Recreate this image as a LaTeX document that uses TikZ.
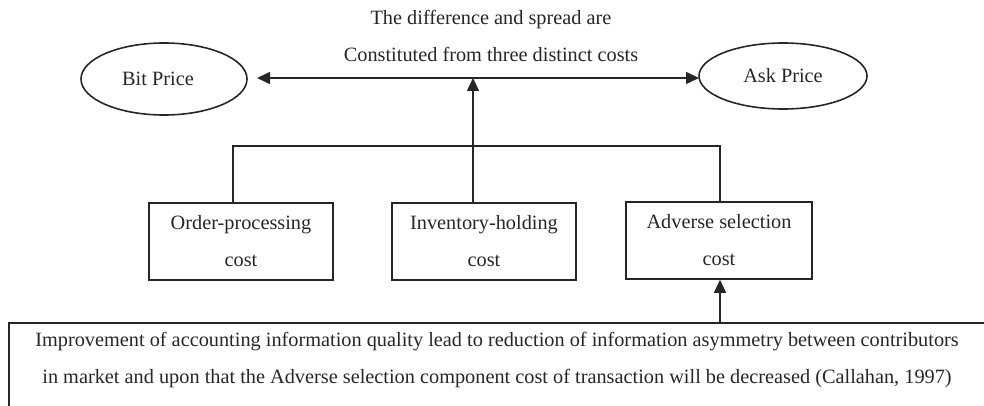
\documentclass[tikz,border=0pt]{standalone}
\usepackage{fontspec}
\setmainfont{Liberation Serif}
\usetikzlibrary{arrows.meta,shapes.geometric}
\begin{document}
\begin{tikzpicture}[x=1pt,y=-1pt,
  line/.style={line width=1.6pt, draw=black!85},
  arr/.style={line, -{Triangle[length=13pt,width=12pt]}},
  darr/.style={line, {Triangle[length=13pt,width=12pt]}-{Triangle[length=13pt,width=12pt]}},
  txt/.style={font=\fontsize{20.3}{37}\selectfont, text=black!85, align=center, inner sep=0pt},
  oval/.style={ellipse, line, txt, minimum height=70pt},
  costbox/.style={rectangle, line, txt, minimum height=77pt},
]
\useasboundingbox (0,0) rectangle (984,406);
\clip (0,0) rectangle (984,406);

% titles
\node[txt] (title) at (491,36) {The difference and spread are\\Constituted from three distinct costs};

% ellipses
\node[oval, minimum width=166pt, minimum height=72pt] (bit) at (164,79) {Bit Price\hspace*{12pt}};
\node[oval, minimum width=168pt, minimum height=66pt] (ask) at (783,76) {Ask Price};

% cost boxes
\node[costbox, minimum width=184pt] (order) at (241,241.5) {Order-processing\\cost};
\node[costbox, minimum width=184pt] (inv) at (484,241.5) {Inventory-holding\\cost};
\node[costbox, minimum width=186pt] (adv) at (719,240.5) {Adverse selection\\cost};

% bottom note box (extends past the picture edges)
\node[rectangle, line, minimum width=992pt, minimum height=97pt, inner sep=0pt] (note) at (505,371.5) {};
\node[txt] (notetext) at (497,360.5) {Improvement of accounting information quality lead to reduction of information asymmetry between contributors\\in market and upon that the Adverse selection component cost of transaction will be decreased (Callahan, 1997)};

% coordinates
\coordinate (arrL) at (257,78);
\coordinate (arrR) at (699,78);
\coordinate (busL) at (233,146);
\coordinate (busR) at (720,146);
\coordinate (mid) at (473,78);

% connectors
\draw[darr] (arrL) -- (arrR);
\draw[line] (order.north -| busL) -- (busL) -- (busR) -- (adv.north -| busR);
\draw[arr] (inv.north -| mid) -- (mid);
\draw[arr] (note.north -| busR) -- (adv.south -| busR);
\end{tikzpicture}
\end{document}
